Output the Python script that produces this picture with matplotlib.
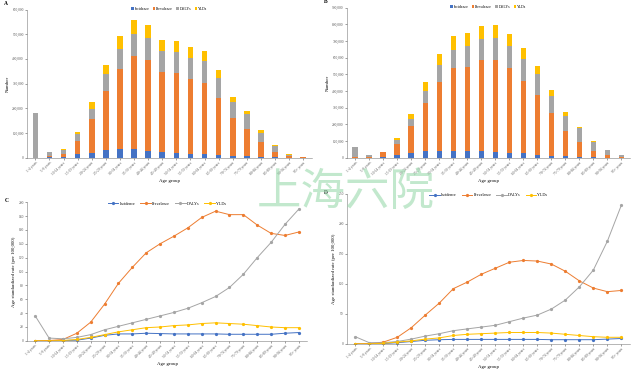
import numpy as np
import matplotlib.pyplot as plt
from matplotlib.ticker import FuncFormatter, MultipleLocator

ages = ['1-4 years', '5-9 years', '10-14 years', '15-19 years', '20-24 years', '25-29 years',
        '30-34 years', '35-39 years', '40-44 years', '45-49 years', '50-54 years', '55-59 years',
        '60-64 years', '65-69 years', '70-74 years', '75-79 years', '80-84 years', '85-89 years',
        '90-94 years', '95+ years']
series = ['Incidence', 'Prevalence', 'DALYs', 'YLDs']
colors = ['#4472C4', '#ED7D31', '#A5A5A5', '#FFC000']

# panel A, numbers (stack segments)
a_inc = [0, 1000, 1000, 13000, 21000, 30000, 35000, 35000, 28000, 23000, 19000, 16000, 16000, 12000, 8000, 7000, 4000, 1000, 500, 200]
a_prev = [0, 4000, 16000, 56000, 135000, 240000, 324000, 375000, 366000, 324000, 324000, 304000, 285000, 230000, 153000, 111000, 58000, 22000, 7500, 1000]
a_daly = [179000, 18000, 16000, 26000, 43000, 67000, 82000, 89000, 90000, 84000, 84000, 85000, 89000, 81000, 63000, 57000, 40000, 24000, 4500, 1500]
a_yld = [0, 1000, 1000, 8000, 25000, 39000, 51000, 59000, 55000, 46000, 47000, 45000, 41000, 31000, 22000, 16000, 10000, 3000, 500, 300]

# panel B, numbers
b_inc = [0, 1000, 2000, 18000, 28000, 38000, 42000, 40000, 38000, 38000, 34000, 30000, 26000, 18000, 12000, 10000, 6000, 4000, 1000, 500]
b_prev = [2000, 5000, 32000, 64000, 162000, 292000, 412000, 498000, 508000, 546000, 550000, 506000, 432000, 358000, 254000, 148000, 88000, 36000, 17000, 3000]
b_daly = [62000, 12000, 2000, 24000, 44000, 70000, 102000, 110000, 126000, 126000, 132000, 134000, 132000, 124000, 106000, 94000, 82000, 54000, 27000, 10000]
b_yld = [0, 0, 0, 14000, 30000, 54000, 64000, 82000, 74000, 80000, 80000, 74000, 66000, 52000, 36000, 24000, 8000, 6000, 1000, 500]

# panel C, rates per 100,000
c_inc = [0, 0, 0.5, 1, 4, 8, 10, 10, 11, 10.5, 10, 10, 10, 10, 9.5, 9.5, 9.5, 9.5, 11, 12]
c_prev = [0, 0.5, 2, 11, 27, 53, 83, 106, 127, 140, 151, 163, 178, 187, 182, 182, 167, 155, 152, 157]
c_daly = [36, 4, 3, 5, 9, 16, 21, 26, 31, 36, 41, 47, 55, 64, 77, 96, 120, 142, 168, 190]
c_yld = [0, 0, 0.5, 2, 5, 9, 13, 16, 19, 20, 22, 23, 25, 26, 25, 24, 22, 20, 19, 19]

# panel D, rates per 100,000
d_inc = [0, 0, 0.5, 2, 4, 6, 7, 7.5, 7.5, 7.5, 7.5, 7.5, 7.5, 7.5, 7, 7, 7, 7, 8, 9]
d_prev = [0, 0.5, 3, 11, 27, 48, 68, 92, 103, 116, 126, 136, 139, 138, 133, 121, 105, 93, 87, 89]
d_daly = [12, 2, 2, 4, 8, 13, 17, 22, 25, 28, 31, 37, 43, 48, 58, 73, 95, 123, 171, 231]
d_yld = [0, 0, 1, 3, 5, 8, 10, 14, 16, 17, 18, 19, 19, 19, 18, 16, 14, 12, 11, 11]

plt.rcParams['font.family'] = ['Liberation Serif', 'DejaVu Serif']
plt.rcParams['font.size'] = 3

fig = plt.figure(figsize=(6.4, 3.8), dpi=100)
x = np.arange(len(ages))


def style(ax):
    for s in ['top', 'right']:
        ax.spines[s].set_visible(False)
    for s in ['left', 'bottom']:
        ax.spines[s].set_linewidth(0.4)
        ax.spines[s].set_color('#7f7f7f')
    ax.tick_params(length=1.2, width=0.4, pad=1, colors='#555555', labelsize=2.6)
    ax.set_xticks(x)
    ax.set_xticklabels(ages, rotation=45, ha='right', rotation_mode='anchor')
    ax.set_xlim(-0.6, len(ages) - 0.4)
    ax.set_xlabel('Age group', fontsize=3.5, labelpad=2)


def bars(ax, data, ymax, step, letter):
    bottom = np.zeros(len(ages))
    for vals, name, col in zip(data, series, colors):
        ax.bar(x, vals, 0.4, bottom=bottom, color=col, label=name)
        bottom += np.array(vals)
    style(ax)
    ax.set_ylim(0, ymax)
    ax.yaxis.set_major_locator(MultipleLocator(step))
    ax.yaxis.set_major_formatter(FuncFormatter(lambda v, p: f'{int(v):,}'))
    ax.set_ylabel('Number', fontsize=3.5, labelpad=2)
    ax.legend(loc='upper center', bbox_to_anchor=(0.5, 1.04), ncol=4, frameon=False,
              fontsize=2.8, handlelength=0.6, handleheight=0.6, columnspacing=0.8, handletextpad=0.3)
    ax.text(-0.08, 1.03, letter, transform=ax.transAxes, fontsize=4, fontweight='bold')


def lines(ax, data, ymax, step, letter):
    for vals, name, col in zip(data, series, colors):
        ax.plot(x, vals, color=col, lw=0.7, marker='o', ms=1.3, label=name)
    style(ax)
    ax.set_ylim(0, ymax)
    ax.yaxis.set_major_locator(MultipleLocator(step))
    ax.set_ylabel('Age standardized rate (per 100,000)', fontsize=3.5, labelpad=2)
    ax.legend(loc='upper center', bbox_to_anchor=(0.5, 1.03), ncol=4, frameon=False,
              fontsize=3, handlelength=2.5, columnspacing=1.2, handletextpad=0.3)
    ax.text(-0.08, 1.0, letter, transform=ax.transAxes, fontsize=4, fontweight='bold')


axA = fig.add_axes([0.042, 0.585, 0.445, 0.39])
bars(axA, [a_inc, a_prev, a_daly, a_yld], 600000, 100000, 'A')
axB = fig.add_axes([0.542, 0.585, 0.442, 0.395])
bars(axB, [b_inc, b_prev, b_daly, b_yld], 900000, 100000, 'B')
axC = fig.add_axes([0.042, 0.103, 0.438, 0.365])
lines(axC, [c_inc, c_prev, c_daly, c_yld], 200, 20, 'C')
axD = fig.add_axes([0.542, 0.095, 0.442, 0.395])
lines(axD, [d_inc, d_prev, d_daly, d_yld], 250, 50, 'D')

# watermark
fig.text(0.54, 0.495, '上海六院', fontsize=32, color='#9ad9ac', alpha=0.6, ha='center', va='center',
         fontweight='light', family=['Noto Sans CJK SC', 'DejaVu Sans'])

fig.savefig('out.png', dpi=100)
